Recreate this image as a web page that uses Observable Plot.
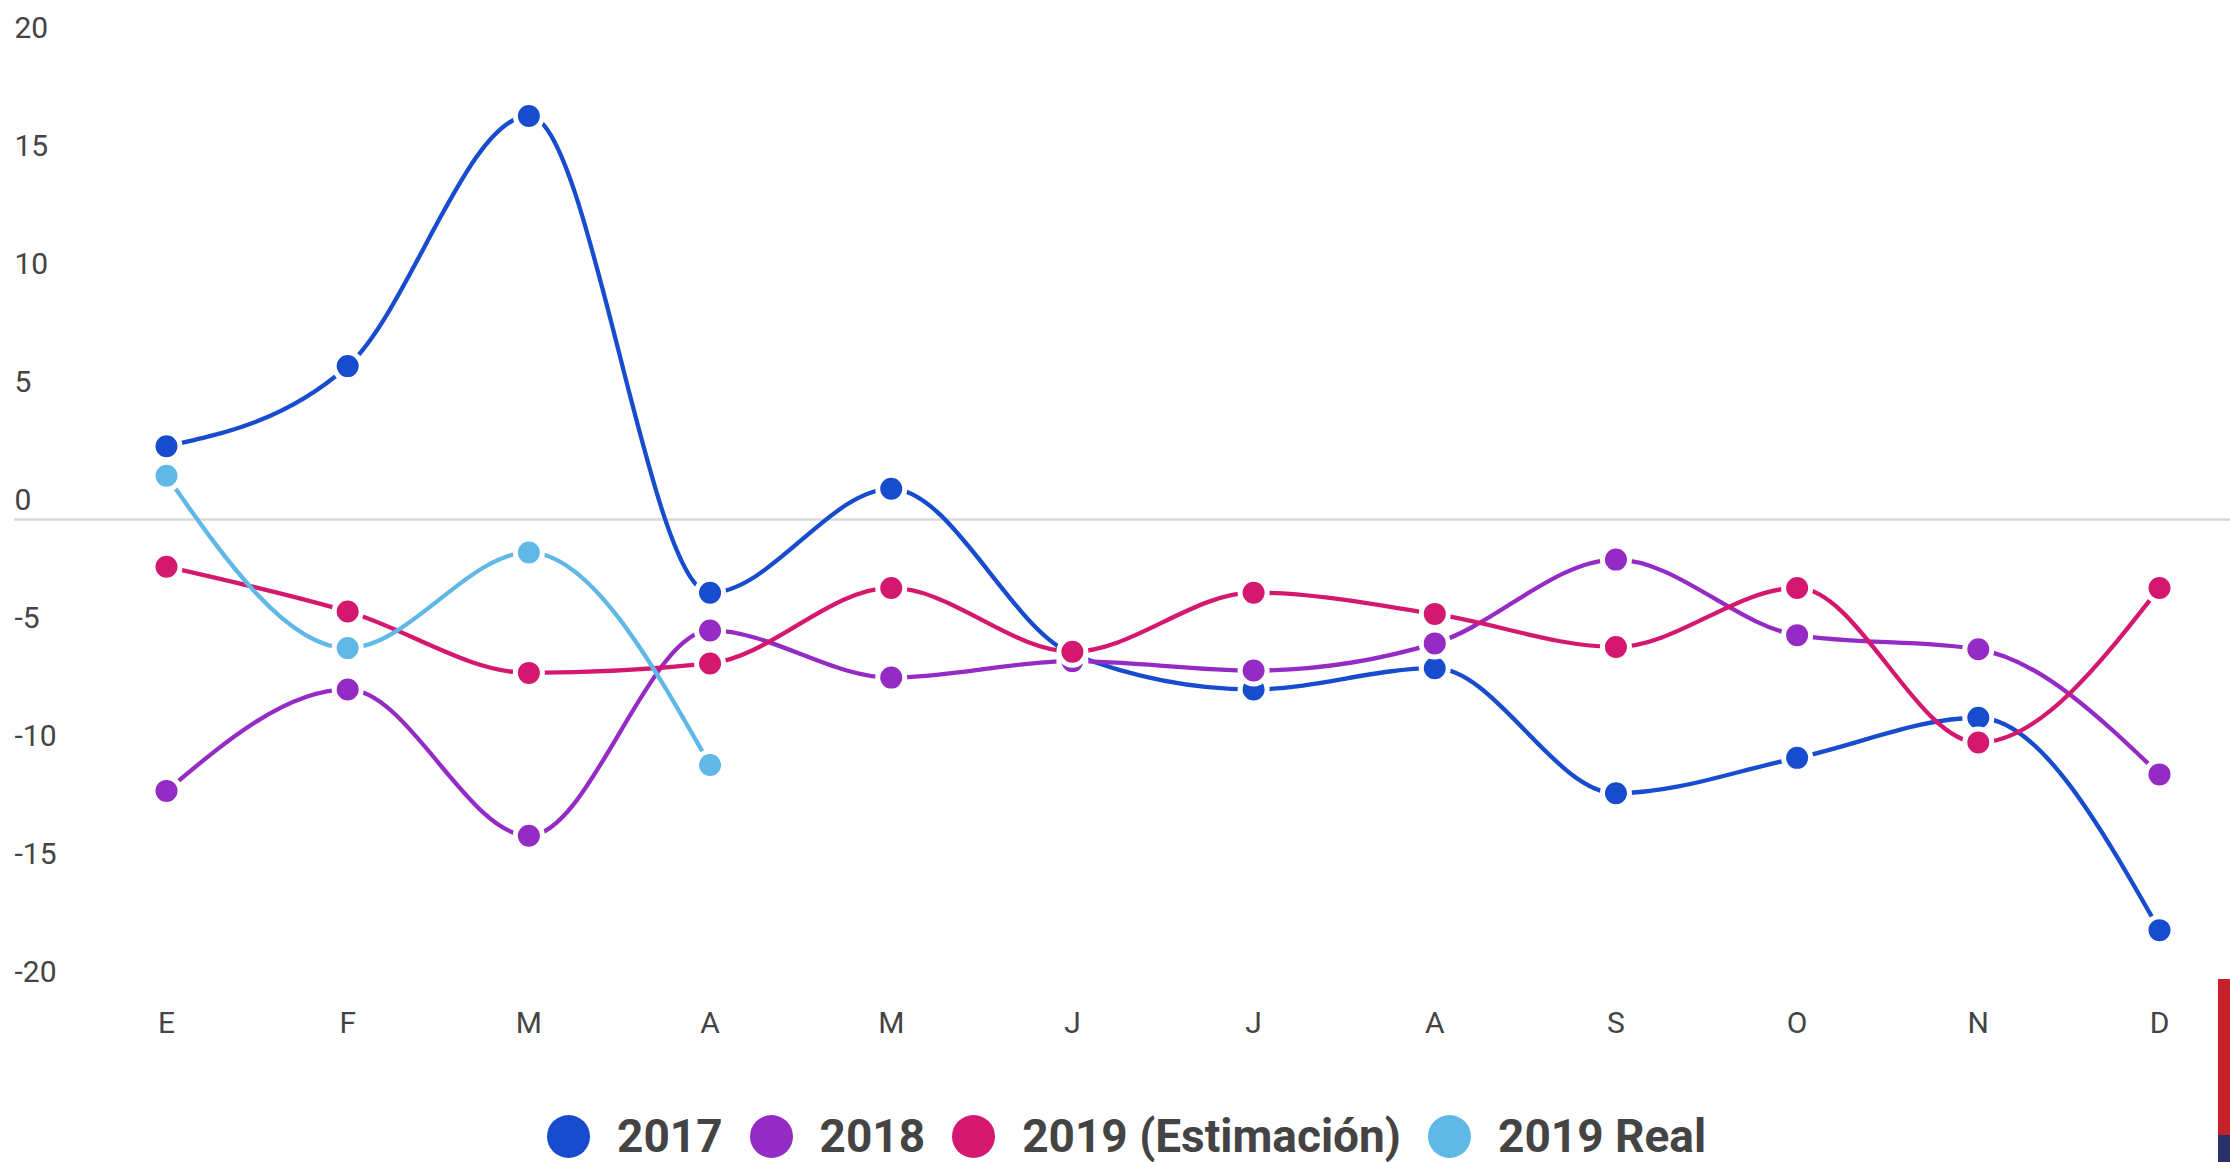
<!DOCTYPE html>
<html><head><meta charset="utf-8">
<script src="https://cdn.jsdelivr.net/npm/d3@7"></script>
<script src="https://cdn.jsdelivr.net/npm/@observablehq/plot@0.6"></script>
<style>
html,body{margin:0;padding:0;background:#fff;width:2230px;height:1162px;overflow:hidden;font-family:Roboto,sans-serif;position:relative;}
#legend{height:62px;box-sizing:border-box;padding-top:10px;padding-left:547px;display:flex;align-items:center;font-weight:700;font-size:46px;color:#444;white-space:nowrap;}
.item{display:flex;align-items:center;margin-right:27px;}
.sw{width:43px;height:43px;border-radius:50%;margin-right:27px;flex:none;}
#badge{position:absolute;left:2218px;top:979px;width:12px;height:156px;background:#c6212b;}
#badge2{position:absolute;left:2218px;top:1135px;width:12px;height:27px;background:#283169;}
</style></head><body>
<div id="chart"></div><div id="legend"></div>
<div id="badge"></div><div id="badge2"></div>
<script>
const months = ["E","F","M","A","M","J","J","A","S","O","N","D"];
const seriesNames = ["2017","2018","2019 (Estimación)","2019 Real"];
const seriesColors = ["#174ccf","#932bc4","#d41870","#60b8e6"];
const v2017 = [3.1, 6.5, 17.1, -3.1, 1.3, -5.7, -7.2, -6.3, -11.6, -10.1, -8.4, -17.4];
const v2018 = [-11.5, -7.2, -13.4, -4.7, -6.7, -6.0, -6.4, -5.25, -1.7, -4.9, -5.5, -10.8];
const v2019e = [-2.0, -3.9, -6.5, -6.1, -2.9, -5.6, -3.1, -4.0, -5.4, -2.9, -9.45, -2.9];
const v2019r = [1.85, -5.45, -1.4, -10.4];
const yTicks = [-20, -15, -10, -5, 0, 5, 10, 15, 20];

const allValues = [v2017, v2018, v2019e, v2019r];
const marks = [
  Plot.ruleY([0], {stroke: "#d9d9d9", strokeWidth: 2.5, insetLeft: -152, insetRight: -71}),
  Plot.axisY({ticks: yTicks, tickFormat: d => `${d}`, label: null, tickSize: 0, tickPadding: 0, textAnchor: "start", dx: -152, dy: -19, fontSize: 30, fill: "#444"}),
  Plot.axisX({ticks: d3.range(12), tickFormat: i => months[i], label: null, tickSize: 0, tickPadding: 20, fontSize: 30, fill: "#444"})
];
allValues.forEach((vals, k) => {
  const data = vals.map((v, i) => ({i, v}));
  marks.push(Plot.line(data, {x: "i", y: "v", stroke: seriesColors[k], strokeWidth: 4.3, curve: "monotone-x"}));
  marks.push(Plot.dot(data, {x: "i", y: "v", r: 13.5, fill: seriesColors[k], stroke: "white", strokeWidth: 5}));
});

const chart = Plot.plot({
  width: 2230, height: 1100,
  marginLeft: 166, marginRight: 71, marginTop: 47, marginBottom: 109,
  x: {domain: [0, 11], label: null},
  y: {domain: [-20, 20], label: null},
  style: {fontFamily: "Roboto, sans-serif", fontSize: "30px", color: "#444", background: "white"},
  marks
});
document.getElementById("chart").appendChild(chart);

const legend = document.getElementById("legend");
seriesNames.forEach((name, k) => {
  const item = document.createElement("div");
  item.className = "item";
  const sw = document.createElement("div");
  sw.className = "sw";
  sw.style.background = seriesColors[k];
  const t = document.createElement("span");
  t.textContent = name;
  item.appendChild(sw); item.appendChild(t);
  legend.appendChild(item);
});
</script>
</body></html>
